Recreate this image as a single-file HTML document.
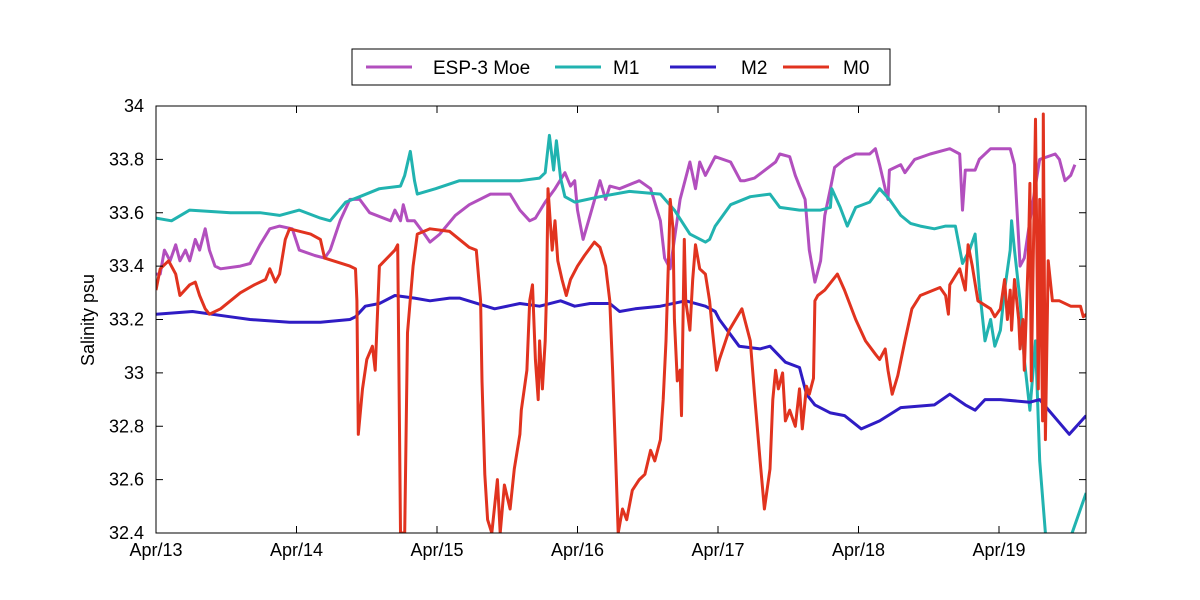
<!DOCTYPE html>
<html><head><meta charset="utf-8"><style>
body{margin:0;background:#fff;}
svg{display:block;font-family:"Liberation Sans",sans-serif;}
</style></head><body>
<svg id="chart" width="1200" height="600" viewBox="0 0 1200 600">
<rect width="1200" height="600" fill="#fff"/>
<defs><clipPath id="clip"><rect x="156" y="106" width="930" height="427"/></clipPath></defs>
<g id="series" clip-path="url(#clip)"></g>
<g id="axes"></g>
<g id="legend">
<rect x="352" y="49" width="538" height="36" fill="#fff" stroke="#000" stroke-width="1"/>
<line x1="366" y1="67" x2="412" y2="67" stroke="#b24fbe" stroke-width="3"/>
<text x="433" y="74" font-size="19">ESP-3 Moe</text>
<line x1="555" y1="67" x2="601" y2="67" stroke="#21b3b0" stroke-width="3"/>
<text x="613" y="74" font-size="19">M1</text>
<line x1="670" y1="67" x2="716" y2="67" stroke="#2f1cc4" stroke-width="3"/>
<text x="741" y="74" font-size="19">M2</text>
<line x1="783" y1="67" x2="829" y2="67" stroke="#e1331f" stroke-width="3"/>
<text x="843" y="74" font-size="19">M0</text>
</g>
</svg>
<script>
const xTickLabels=["Apr/13","Apr/14","Apr/15","Apr/16","Apr/17","Apr/18","Apr/19"];
const yTicks=[32.4,32.6,32.8,33,33.2,33.4,33.6,33.8,34];
const espT=[0,.03,.06,.10,.14,.17,.21,.24,.28,.31,.35,.38,.42,.46,.60,.67,.74,.81,.88,.97,1.02,1.13,1.20,1.24,1.31,1.38,1.45,1.52,1.67,1.70,1.74,1.76,1.79,1.84,1.91,1.95,2.02,2.13,2.23,2.38,2.52,2.59,2.66,2.70,2.77,2.84,2.91,2.95,2.98,3.00,3.04,3.09,3.16,3.20,3.23,3.30,3.44,3.52,3.59,3.62,3.66,3.69,3.73,3.80,3.84,3.87,3.91,3.98,4.09,4.16,4.19,4.26,4.41,4.44,4.51,4.55,4.58,4.62,4.65,4.69,4.73,4.76,4.80,4.83,4.90,4.98,5.08,5.12,5.15,5.19,5.21,5.22,5.30,5.33,5.40,5.51,5.65,5.72,5.74,5.76,5.83,5.86,5.94,6.08,6.11,6.15,6.18,6.22,6.29,6.40,6.43,6.47,6.51,6.54];
const espV=[33.37,33.37,33.46,33.42,33.48,33.42,33.46,33.42,33.50,33.46,33.54,33.46,33.40,33.39,33.40,33.41,33.48,33.54,33.55,33.54,33.46,33.44,33.43,33.46,33.57,33.65,33.65,33.60,33.57,33.61,33.57,33.63,33.57,33.57,33.52,33.49,33.52,33.59,33.63,33.67,33.67,33.61,33.57,33.58,33.64,33.69,33.75,33.70,33.72,33.61,33.50,33.59,33.72,33.65,33.70,33.69,33.72,33.69,33.57,33.43,33.39,33.50,33.65,33.79,33.69,33.79,33.74,33.81,33.79,33.72,33.72,33.73,33.79,33.82,33.81,33.74,33.70,33.65,33.46,33.34,33.42,33.59,33.69,33.77,33.80,33.82,33.82,33.84,33.78,33.69,33.65,33.76,33.78,33.75,33.80,33.82,33.84,33.82,33.61,33.76,33.76,33.80,33.84,33.84,33.78,33.40,33.43,33.57,33.80,33.82,33.80,33.72,33.74,33.78];
const m1T=[0,.11,.24,.53,.74,.88,1.02,1.17,1.24,1.35,1.45,1.59,1.74,1.77,1.81,1.84,1.86,1.99,2.16,2.45,2.59,2.73,2.77,2.80,2.83,2.85,2.88,2.91,2.98,3.16,3.37,3.59,3.69,3.80,3.91,3.94,3.98,4.09,4.23,4.37,4.44,4.58,4.73,4.80,4.81,4.87,4.92,4.98,5.08,5.15,5.22,5.30,5.37,5.44,5.54,5.62,5.69,5.74,5.79,5.83,5.86,5.90,5.94,5.97,6.01,6.04,6.08,6.09,6.11,6.15,6.18,6.22,6.26,6.29,6.33,6.38,6.47,6.52,6.62];
const m1V=[33.58,33.57,33.61,33.60,33.60,33.59,33.61,33.58,33.57,33.64,33.66,33.69,33.70,33.74,33.83,33.72,33.67,33.69,33.72,33.72,33.72,33.73,33.75,33.89,33.76,33.87,33.73,33.66,33.64,33.66,33.68,33.67,33.61,33.52,33.49,33.50,33.55,33.63,33.66,33.67,33.62,33.61,33.61,33.62,33.69,33.62,33.55,33.62,33.64,33.69,33.65,33.59,33.56,33.55,33.54,33.55,33.55,33.41,33.46,33.52,33.32,33.12,33.20,33.10,33.16,33.31,33.46,33.57,33.46,33.27,33.05,32.86,33.12,32.67,32.40,32.30,32.35,32.40,32.55];
const m2T=[0,.26,.53,.67,.95,1.17,1.38,1.42,1.49,1.59,1.70,1.84,1.95,2.09,2.16,2.41,2.59,2.73,2.88,2.98,3.09,3.23,3.30,3.41,3.59,3.77,3.91,3.98,4.01,4.08,4.15,4.30,4.37,4.48,4.58,4.63,4.69,4.80,4.90,5.02,5.15,5.30,5.54,5.65,5.76,5.83,5.90,6.01,6.22,6.29,6.50,6.62];
const m2V=[33.22,33.23,33.21,33.20,33.19,33.19,33.20,33.21,33.25,33.26,33.29,33.28,33.27,33.28,33.28,33.24,33.26,33.25,33.27,33.25,33.26,33.26,33.23,33.24,33.25,33.27,33.25,33.23,33.20,33.15,33.10,33.09,33.10,33.04,33.02,32.92,32.88,32.85,32.84,32.79,32.82,32.87,32.88,32.92,32.88,32.86,32.90,32.90,32.89,32.90,32.77,32.84];
const m0T=[0,.03,.09,.14,.17,.24,.28,.31,.35,.38,.46,.60,.70,.78,.81,.85,.88,.92,.95,1.10,1.17,1.20,1.38,1.42,1.43,1.44,1.47,1.50,1.54,1.56,1.58,1.59,1.70,1.72,1.74,1.77,1.79,1.83,1.86,1.95,2.09,2.23,2.28,2.31,2.32,2.34,2.36,2.39,2.43,2.45,2.48,2.52,2.55,2.59,2.60,2.64,2.66,2.68,2.70,2.72,2.73,2.75,2.77,2.78,2.79,2.82,2.84,2.86,2.89,2.92,2.95,3.00,3.05,3.12,3.16,3.20,3.23,3.25,3.27,3.29,3.32,3.35,3.39,3.44,3.48,3.52,3.55,3.59,3.61,3.63,3.65,3.66,3.68,3.69,3.71,3.73,3.74,3.76,3.77,3.80,3.82,3.84,3.87,3.91,3.94,3.96,3.99,4.01,4.08,4.17,4.19,4.23,4.26,4.30,4.33,4.37,4.39,4.41,4.43,4.46,4.48,4.51,4.55,4.58,4.60,4.63,4.65,4.68,4.69,4.71,4.76,4.85,4.90,4.98,5.05,5.12,5.15,5.19,5.21,5.24,5.28,5.33,5.38,5.44,5.58,5.62,5.64,5.65,5.72,5.76,5.78,5.81,5.85,5.94,5.97,6.01,6.04,6.06,6.08,6.09,6.11,6.14,6.15,6.17,6.18,6.21,6.22,6.23,6.26,6.28,6.29,6.31,6.315,6.33,6.35,6.38,6.43,6.51,6.58,6.60,6.62];
const m0V=[33.31,33.39,33.42,33.37,33.29,33.33,33.34,33.29,33.24,33.22,33.24,33.30,33.33,33.35,33.39,33.34,33.37,33.50,33.54,33.52,33.50,33.43,33.40,33.39,33.27,32.77,32.94,33.05,33.10,33.01,33.27,33.40,33.46,33.48,32.40,32.40,33.15,33.40,33.52,33.54,33.53,33.47,33.46,33.27,32.97,32.62,32.45,32.40,32.60,32.40,32.58,32.49,32.64,32.77,32.86,33.01,33.27,33.33,33.05,32.90,33.12,32.94,33.12,33.31,33.69,33.46,33.57,33.42,33.35,33.29,33.35,33.40,33.44,33.49,33.47,33.40,33.27,33.01,32.71,32.40,32.49,32.45,32.56,32.60,32.62,32.71,32.67,32.75,32.90,33.12,33.46,33.65,33.54,33.20,32.97,33.01,32.84,33.50,33.27,33.16,33.35,33.48,33.39,33.37,33.27,33.16,33.01,33.05,33.16,33.24,33.20,33.12,32.92,32.67,32.49,32.64,32.90,33.01,32.94,33.00,32.82,32.86,32.80,32.94,32.79,32.95,32.92,32.98,33.27,33.29,33.31,33.37,33.31,33.20,33.12,33.07,33.05,33.09,33.01,32.92,32.99,33.12,33.24,33.29,33.32,33.29,33.22,33.33,33.39,33.31,33.48,33.40,33.27,33.24,33.21,33.24,33.35,33.20,33.31,33.16,33.35,33.20,33.09,33.20,33.01,33.46,33.71,32.97,33.95,32.94,33.65,32.82,33.97,32.75,33.42,33.27,33.27,33.25,33.25,33.21,33.22];

const X0=156,X1=1086,Y0=533,Y1=106,DAYS=(X1-X0)/140.5;
function xs(d){return X0+d/DAYS*(X1-X0);}
function ys(v){return Y0-(v-32.4)/1.6*(Y0-Y1);}
const NS="http://www.w3.org/2000/svg";
const g=document.getElementById('series');
function drawSeries(t,v,color,name){
  const p=document.createElementNS(NS,'path');
  let d='';
  for(let i=0;i<t.length;i++){d+=(i?'L':'M')+xs(t[i]).toFixed(1)+','+ys(v[i]).toFixed(1);}
  p.setAttribute('d',d);p.setAttribute('fill','none');p.setAttribute('stroke',color);
  p.setAttribute('stroke-width','3');p.setAttribute('stroke-linejoin','round');
  
  
  g.appendChild(p);
}
drawSeries(espT,espV,'#b24fbe','series-esp-3-moe');
drawSeries(m1T,m1V,'#21b3b0','series-m1');
drawSeries(m2T,m2V,'#2f1cc4','series-m2');
drawSeries(m0T,m0V,'#e1331f','series-m0');

const ax=document.getElementById('axes');
function el(tag,attrs,txt){const e=document.createElementNS(NS,tag);for(const k in attrs)e.setAttribute(k,attrs[k]);if(txt!==undefined)e.textContent=txt;ax.appendChild(e);return e;}
const box=el('rect',{x:X0,y:Y1,width:X1-X0,height:Y0-Y1,fill:'none',stroke:'#000','stroke-width':1});


xTickLabels.forEach((lab,i)=>{
  const x=xs(i);
  el('line',{x1:x,y1:Y0,x2:x,y2:Y0-7,stroke:'#000'});
  el('line',{x1:x,y1:Y1,x2:x,y2:Y1+7,stroke:'#000'});
  const t=el('text',{x:x,y:556,'font-size':18,'text-anchor':'middle'},lab);
  
  
});
yTicks.forEach(v=>{
  const y=ys(v);
  el('line',{x1:X0,y1:y,x2:X0+7,y2:y,stroke:'#000'});
  el('line',{x1:X1,y1:y,x2:X1-7,y2:y,stroke:'#000'});
  const t=el('text',{x:144,y:y+6,'font-size':18,'text-anchor':'end'},String(v));
  
  
});
const yt=el('text',{x:0,y:0,'font-size':18,'text-anchor':'middle',transform:'translate(94,320) rotate(-90)'},'Salinity psu');


</script>
</body></html>
